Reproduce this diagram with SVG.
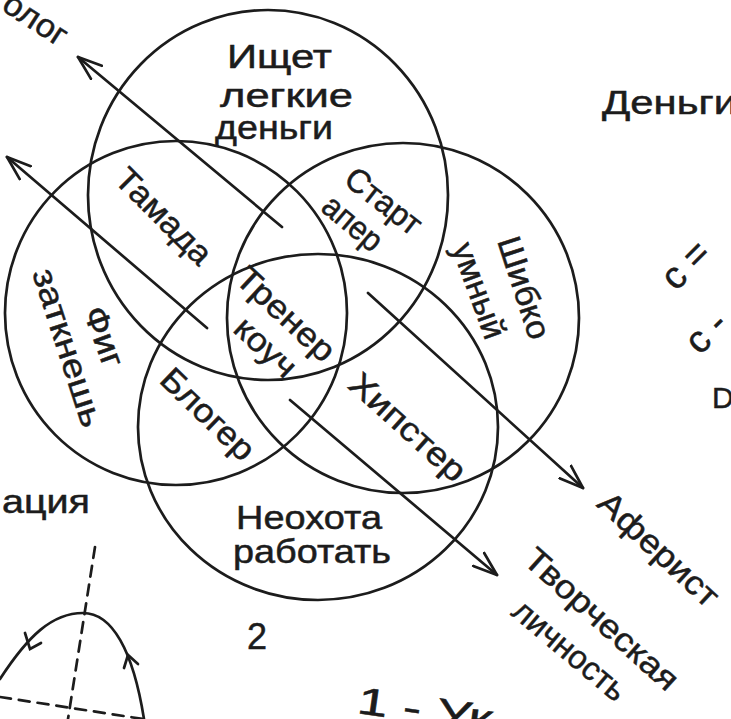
<svg xmlns="http://www.w3.org/2000/svg" width="731" height="719" viewBox="0 0 731 719">
<style>
.ln{fill:none;stroke:#1c1c1c;stroke-width:2.7;stroke-linecap:round}
.d{stroke-dasharray:11 8}
.tx{font-family:"Liberation Sans",Arial,sans-serif;font-size:33px;fill:#1c1c1c;stroke:#1c1c1c;stroke-width:0.5}
.m{text-anchor:middle}
</style>
<defs>
<marker id="ah" markerUnits="userSpaceOnUse" markerWidth="28" markerHeight="20" viewBox="0 0 28 20" refX="25" refY="10" orient="auto">
<path d="M1,1.5 L25,10 L1,18.5" fill="none" stroke="#1c1c1c" stroke-width="2.7" stroke-linecap="round" stroke-linejoin="round"/>
</marker>
</defs>
<rect width="731" height="719" fill="#ffffff"/>

<g id="circle-top"><ellipse class="ln" cx="268" cy="195" rx="180" ry="185"/></g>
<g id="circle-left"><ellipse class="ln" cx="176" cy="313" rx="171" ry="172"/></g>
<g id="circle-right"><ellipse class="ln" cx="403" cy="318" rx="176" ry="175"/></g>
<g id="circle-bottom"><ellipse class="ln" cx="318" cy="427" rx="180" ry="173"/></g>

<g id="connectors">
<line class="ln" x1="282" y1="227" x2="78" y2="57" marker-end="url(#ah)"/>
<line class="ln" x1="207" y1="328" x2="7" y2="157" marker-end="url(#ah)"/>
<line class="ln" x1="368" y1="293" x2="583" y2="488" marker-end="url(#ah)"/>
<line class="ln" x1="290" y1="400" x2="497" y2="575" marker-end="url(#ah)"/>
</g>

<g id="label-top">
<text class="tx" x="227" y="68" textLength="105" lengthAdjust="spacingAndGlyphs">Ищет</text>
<text class="tx" x="220" y="107" textLength="133" lengthAdjust="spacingAndGlyphs">легкие</text>
<text class="tx" x="215" y="139" textLength="118" lengthAdjust="spacingAndGlyphs">деньги</text>
</g>
<g id="label-tamada"><text class="tx m" transform="translate(163,217) rotate(45)" dy="10" textLength="122" lengthAdjust="spacingAndGlyphs">Тамада</text></g>
<g id="label-startaper">
<text class="tx m" transform="translate(383,202) rotate(38)" dy="10" textLength="88" lengthAdjust="spacingAndGlyphs">Старт</text>
<text class="tx m" transform="translate(352,224) rotate(40)" dy="10" textLength="68" lengthAdjust="spacingAndGlyphs">апер</text>
</g>
<g id="label-shibko">
<text class="tx m" transform="translate(523,288) rotate(72)" dy="10" textLength="106" lengthAdjust="spacingAndGlyphs">Шибко</text>
<text class="tx m" transform="translate(478,291) rotate(70)" dy="10" textLength="100" lengthAdjust="spacingAndGlyphs">умный</text>
</g>
<g id="label-fig">
<text class="tx m" transform="translate(103,337) rotate(70)" dy="10" textLength="62" lengthAdjust="spacingAndGlyphs">Фиг</text>
<text class="tx m" transform="translate(67,348) rotate(72)" dy="10" textLength="165" lengthAdjust="spacingAndGlyphs">заткнешь</text>
</g>
<g id="label-trener">
<text class="tx m" transform="translate(285,315) rotate(43)" dy="10" textLength="122" lengthAdjust="spacingAndGlyphs">Тренер</text>
<text class="tx m" transform="translate(265,348) rotate(43)" dy="10" textLength="72" lengthAdjust="spacingAndGlyphs">коуч</text>
</g>
<g id="label-bloger"><text class="tx m" transform="translate(207,415) rotate(44)" dy="10" textLength="117" lengthAdjust="spacingAndGlyphs">Блогер</text></g>
<g id="label-hipster"><text class="tx m" transform="translate(407,428) rotate(42)" dy="10" textLength="145" lengthAdjust="spacingAndGlyphs">Хипстер</text></g>
<g id="label-bottom">
<text class="tx" x="236" y="529" textLength="146" lengthAdjust="spacingAndGlyphs">Неохота</text>
<text class="tx" x="233" y="563" textLength="158" lengthAdjust="spacingAndGlyphs">работать</text>
</g>

<g id="label-psiholog"><text class="tx m" transform="translate(35,20) rotate(33)" dy="10" textLength="70" lengthAdjust="spacingAndGlyphs">олог</text></g>
<g id="label-aferist"><text class="tx m" transform="translate(658,550) rotate(43)" dy="10" textLength="152" lengthAdjust="spacingAndGlyphs">Аферист</text></g>
<g id="label-tvorcheskaya">
<text class="tx m" transform="translate(601,620) rotate(42)" dy="10" textLength="195" lengthAdjust="spacingAndGlyphs">Творческая</text>
<text class="tx m" transform="translate(569,651) rotate(40)" dy="10" textLength="138" lengthAdjust="spacingAndGlyphs">личность</text>
</g>

<g id="side-notes">
<text class="tx" x="602" y="114" textLength="135" lengthAdjust="spacingAndGlyphs">Деньги</text>
<text class="tx" x="2" y="513" textLength="88" lengthAdjust="spacingAndGlyphs">ация</text>
<text class="tx" transform="translate(676,292) rotate(-45)" style="font-size:38px">с =</text>
<text class="tx" transform="translate(700,356) rotate(-45)" style="font-size:38px">с -</text>
<text class="tx" x="712" y="408" style="font-size:30px">D</text>
<text class="tx" x="247" y="649" style="font-size:36px">2</text>
<text class="tx" transform="translate(356,713) rotate(8)" style="font-size:38px" textLength="136" lengthAdjust="spacingAndGlyphs">1 - Ук</text>
</g>

<g id="graph">
<line class="ln d" x1="95" y1="547" x2="68" y2="719"/>
<line class="ln d" x1="0" y1="697" x2="143" y2="719"/>
<path class="ln" d="M0,679 C28,636 52,613 83,613 C112,613 133,650 144,719"/>
<path class="ln" d="M25,633 L30,649 L41,643"/>
<path class="ln" d="M124,668 L128,655 L138,664"/>
</g>
</svg>
